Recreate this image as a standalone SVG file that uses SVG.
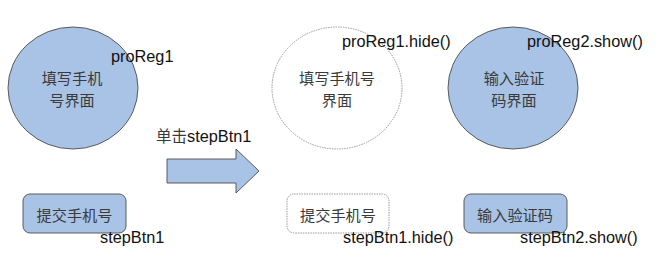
<svg xmlns="http://www.w3.org/2000/svg" width="669" height="266" viewBox="0 0 669 266">
<style>
.shape{fill:#a8c3e5;stroke:#5a5a5a;stroke-width:1}
.ghost{fill:#ffffff;stroke:#999;stroke-width:1;stroke-dasharray:1.5 1}
.cn{font-family:"Noto Sans CJK SC","Liberation Sans",sans-serif;font-size:15.2px;fill:#3a3a3a;text-anchor:middle}
.lbl{font-family:"Liberation Sans",Arial,sans-serif;font-size:16.3px;fill:#111}
</style>
<rect width="669" height="266" fill="#ffffff"/>
<g id="circle1">
<ellipse class="shape" cx="73" cy="88" rx="65" ry="61"/>
<text class="cn" x="72" y="84">填写手机</text>
<text class="cn" x="72" y="106">号界面</text>
</g>
<g id="label-proReg1"><text class="lbl" x="111" y="62">proReg1</text></g>
<g id="button1">
<rect class="shape" x="23" y="194" width="103" height="39" rx="7"/>
<text class="cn" x="74.5" y="221">提交手机号</text>
</g>
<g id="label-stepBtn1"><text class="lbl" x="100" y="243">stepBtn1</text></g>
<g id="connectors">
<path class="shape" d="M167,159 H236 V149 L259,171 L236,193 V183 H167 Z"/>
<text class="lbl" x="156" y="142"><tspan font-family="Noto Sans CJK SC,sans-serif" font-size="15.5" fill="#3a3a3a">单击</tspan>stepBtn1</text>
</g>
<g id="circle2">
<ellipse class="ghost" cx="337" cy="88" rx="65" ry="61"/>
<text class="cn" x="337" y="84">填写手机号</text>
<text class="cn" x="337" y="106">界面</text>
</g>
<g id="label-proReg1-hide"><text class="lbl" x="342" y="47">proReg1.hide()</text></g>
<g id="button2">
<rect class="ghost" x="287" y="194" width="102" height="39" rx="7"/>
<text class="cn" x="338" y="221">提交手机号</text>
</g>
<g id="label-stepBtn1-hide"><text class="lbl" x="343" y="243">stepBtn1.hide()</text></g>
<g id="circle3">
<ellipse class="shape" cx="513" cy="88" rx="65" ry="61"/>
<text class="cn" x="514" y="84">输入验证</text>
<text class="cn" x="514" y="106">码界面</text>
</g>
<g id="label-proReg2-show"><text class="lbl" x="527" y="47">proReg2.show()</text></g>
<g id="button3">
<rect class="shape" x="464" y="194" width="103" height="39" rx="7"/>
<text class="cn" x="515" y="221">输入验证码</text>
</g>
<g id="label-stepBtn2-show"><text class="lbl" x="520" y="243">stepBtn2.show()</text></g>
</svg>
